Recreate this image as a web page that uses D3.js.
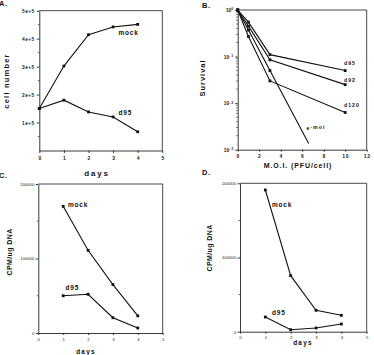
<!DOCTYPE html>
<html>
<head>
<meta charset="utf-8">
<script src="https://cdn.jsdelivr.net/npm/d3@7"></script>
<style>
    body { margin: 0; background: #fff; }
    svg { display: block; font-family: "Liberation Sans", Arial, sans-serif; }
    .axis path, .axis line { stroke: #222; stroke-width: 0.9; }
    .axis text { font-weight: bold; fill: #222; }
    .title { font-weight: bold; fill: #111; }
</style>
</head>
<body>
<svg id="chart" width="374" height="355"></svg>
<script>
// panel A: cell number
const daysA = [0, 1, 2, 3, 4];
const mockA = [150000, 302000, 414000, 442000, 451000];
const d95A = [150000, 180000, 138000, 120000, 67000];
const ticksA = [1e5, 2e5, 3e5, 4e5, 5e5];

// panel B: survival vs M.O.I.
const moiB = [0, 1, 3, 10];
const d95B = [1, 0.55, 0.11, 0.05];
const d92B = [1, 0.45, 0.085, 0.025];
const d120B = [1, 0.27, 0.03, 0.0063];
const moiE = [0, 1, 3, 6.6];
const emoiB = [1, 0.37, 0.05, 0.00136];
const ticksBx = [0, 2, 4, 6, 8, 10, 12];
const ticksBy = [1e-3, 1e-2, 1e-1, 1];

// panels C and D: CPM/ug DNA
const daysCD = [1, 2, 3, 4];
const mockC = [170000, 111000, 65000, 23000];
const d95C = [50000, 52000, 20500, 6700];
const mockD = [191000, 75500, 28800, 22100];
const d95D = [19800, 2700, 5000, 10400];
const ticksCD = [0, 100000, 200000];

const svg = d3.select("#chart");

function drawBox(g, x0, x1, y0, y1) {
    g.append("path")
        .attr("d", `M${x0},${y0}H${x1}V${y1}`)
        .attr("fill", "none")
        .attr("stroke", "#333")
        .attr("stroke-width", 0.9);
}

function drawSeries(g, xs, ys, xScale, yScale, markers) {
    const pts = xs.map((x, i) => [xScale(x), yScale(ys[i])]);
    g.append("path")
        .attr("d", d3.line()(pts))
        .attr("fill", "none")
        .attr("stroke", "#111")
        .attr("stroke-width", 1.1);
    g.selectAll(null)
        .data(pts.slice(0, markers))
        .join("rect")
        .attr("x", d => d[0] - 1.4)
        .attr("y", d => d[1] - 1.4)
        .attr("width", 2.8)
        .attr("height", 2.8)
        .attr("fill", "#111");
}

function label(g, x, y, text, size, spacing, anchor) {
    return g.append("text")
        .attr("class", "title")
        .attr("x", x)
        .attr("y", y)
        .attr("text-anchor", anchor || "start")
        .style("font-size", size + "px")
        .style("letter-spacing", spacing + "px")
        .text(text);
}

function vlabel(g, x, y, text, size, spacing) {
    g.append("text")
        .attr("class", "title")
        .attr("transform", `translate(${x},${y}) rotate(-90)`)
        .attr("text-anchor", "middle")
        .style("font-size", size + "px")
        .style("letter-spacing", spacing + "px")
        .text(text);
}

function minorTicks(g, values, scale, x) {
    g.selectAll(null)
        .data(values)
        .join("line")
        .attr("x1", x - 1.5)
        .attr("x2", x)
        .attr("y1", d => scale(d))
        .attr("y2", d => scale(d))
        .attr("stroke", "#222")
        .attr("stroke-width", 0.7);
}

// ---------- A ----------
{
    const g = svg.append("g");
    const x = d3.scaleLinear().domain([0, 5]).range([39.3, 162.3]);
    const y = d3.scaleLinear().domain([0, 5e5]).range([150.5, 10.7]);
    drawBox(g, 39.3, 162.3, 10.7, 150.5);
    g.append("g").attr("class", "axis")
        .attr("transform", "translate(0,150.5)")
        .call(d3.axisBottom(x).ticks(5).tickSize(2.5).tickPadding(3).tickSizeOuter(0))
        .selectAll("text").style("font-size", "5px");
    g.append("g").attr("class", "axis")
        .attr("transform", "translate(39.3,0)")
        .call(d3.axisLeft(y).tickValues(ticksA).tickSize(2.5).tickPadding(2).tickSizeOuter(0)
            .tickFormat(d => (d / 1e5) + "e+5"))
        .selectAll("text").style("font-size", "4.8px").style("letter-spacing", "0.5px");
    minorTicks(g, [0.5e5, 1.5e5, 2.5e5, 3.5e5, 4.5e5], y, 39.3);
    drawSeries(g, daysA, mockA, x, y, 5);
    drawSeries(g, daysA, d95A, x, y, 5);
    label(g, 118.5, 35, "mock", 6.5, 0.8);
    label(g, 118.5, 115, "d95", 6.5, 0.8);
    label(g, 97, 176, "days", 8, 1.8, "middle");
    vlabel(g, 9, 81, "cell  number", 7.5, 1.2);
    label(g, -1, 6, "A.", 7.5, 0.5);
}

// ---------- B ----------
{
    const g = svg.append("g");
    const x = d3.scaleLinear().domain([0, 12]).range([237.7, 366.7]);
    const y = d3.scaleLog().domain([1e-3, 1]).range([149.7, 10]);
    drawBox(g, 237.7, 366.7, 10, 149.7);
    g.append("g").attr("class", "axis")
        .attr("transform", "translate(0,149.7)")
        .call(d3.axisBottom(x).tickValues(ticksBx).tickSize(2).tickPadding(3).tickSizeOuter(0))
        .selectAll("text").style("font-size", "5px").style("letter-spacing", "0.6px");
    const ya = g.append("g").attr("class", "axis")
        .attr("transform", "translate(237.7,0)")
        .call(d3.axisLeft(y).tickValues(ticksBy).tickSize(2.5).tickPadding(2).tickSizeOuter(0)
            .tickFormat(() => ""));
    ya.selectAll(".tick text").each(function (d) {
        const t = d3.select(this).style("font-size", "4.8px");
        t.append("tspan").text("10");
        t.append("tspan").attr("dy", "-1.6").style("font-size", "3.5px")
            .text(String(Math.round(Math.log10(d))).replace("-", "- "));
    });
    const minors = [];
    [1e-3, 1e-2, 1e-1].forEach(b => { for (let k = 2; k <= 9; k++) minors.push(b * k); });
    minorTicks(g, minors, y, 237.7);
    drawSeries(g, moiB, d95B, x, y, 4);
    drawSeries(g, moiB, d92B, x, y, 4);
    drawSeries(g, moiB, d120B, x, y, 4);
    drawSeries(g, moiE, emoiB, x, y, 3);
    label(g, 344, 65, "d95", 5.2, 1);
    label(g, 344, 81.5, "d92", 5.2, 1);
    label(g, 344, 106.5, "d120", 5.2, 1);
    const e = label(g, 306.5, 130, "e", 5.2, 1);
    e.append("tspan").attr("dy", -1.5).text("·moi");
    label(g, 298, 168, "M.O.I.  (PFU/cell)", 7, 0.9, "middle");
    vlabel(g, 205, 78, "Survival", 7.5, 1);
    label(g, 202, 8, "B.", 7.5, 0.5);
}

// ---------- C and D ----------
function cpmPanel(x0, x1, yTop, yBot, mock, d95, pos) {
    const g = svg.append("g");
    const x = d3.scaleLinear().domain([0, 5]).range([x0, x1]);
    const y = d3.scaleLinear().domain([0, 200000]).range([yBot, yTop]);
    drawBox(g, x0, x1, yTop, yBot);
    g.append("g").attr("class", "axis")
        .attr("transform", `translate(0,${yBot})`)
        .call(d3.axisBottom(x).ticks(5).tickSize(2).tickPadding(2.5).tickSizeOuter(0))
        .selectAll("text").style("font-size", "4.3px").style("font-weight", "normal");
    g.append("g").attr("class", "axis")
        .attr("transform", `translate(${x0},0)`)
        .call(d3.axisLeft(y).tickValues(ticksCD).tickSize(2.5).tickPadding(1.5).tickSizeOuter(0)
            .tickFormat(d3.format("d")))
        .selectAll("text").style("font-size", "4.2px").style("font-weight", "normal");
    minorTicks(g, [50000, 150000], y, x0);
    drawSeries(g, daysCD, mock, x, y, 4);
    drawSeries(g, daysCD, d95, x, y, 4);
    label(g, pos.mock[0], pos.mock[1], "mock", 6.5, 0.8);
    label(g, pos.d95[0], pos.d95[1], "d95", 6.5, 0.8);
    label(g, pos.days[0], pos.days[1], "days", 6.5, 1.2, "middle");
    vlabel(g, pos.vl[0], pos.vl[1], "CPM/ug  DNA", 7, 0.4);
    label(g, pos.tag[0], pos.tag[1], pos.name, 7.5, 0.5);
}

cpmPanel(38.3, 162.7, 184, 333, mockC, d95C, {
    mock: [68, 207], d95: [65.5, 290], days: [86, 354], vl: [12, 252], tag: [-1, 178], name: "C."
});
cpmPanel(240, 366.7, 183.3, 331.7, mockD, d95D, {
    mock: [272, 207], d95: [272, 315], days: [303, 344.5], vl: [211.5, 248], tag: [202, 174.5], name: "D."
});
</script>
</body>
</html>
